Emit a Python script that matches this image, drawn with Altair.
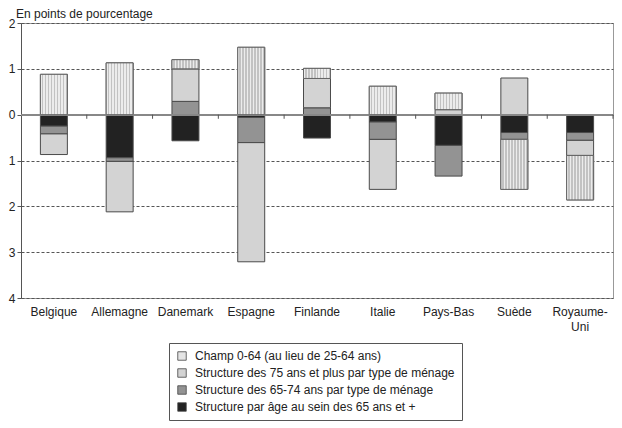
import altair as alt
import pandas as pd

# ---- data ----
pays = ["Belgique", "Allemagne", "Danemark", "Espagne", "Finlande",
        "Italie", "Pays-Bas", "Suède", "Royaume-Uni"]
series = ["Champ 0-64 (au lieu de 25-64 ans)",
          "Structure des 75 ans et plus par type de ménage",
          "Structure des 65-74 ans par type de ménage",
          "Structure par âge au sein des 65 ans et +"]
age_65plus = [-0.25, -0.94, -0.57, -0.06, -0.51, -0.16, -0.67, -0.39, -0.39]
menage_65_74 = [-0.17, -0.08, 0.29, -0.55, 0.15, -0.38, -0.67, -0.15, -0.17]
menage_75plus = [-0.45, -1.10, 0.71, -2.60, 0.64, -1.09, 0.11, 0.80, -0.33]
champ_0_64 = [0.88, 1.13, 0.20, 1.47, 0.22, 0.62, 0.36, -1.09, -0.97]
y_ticks = [-4, -3, -2, -1, 0, 1, 2]
colors = ["#e4e4e4", "#d3d3d3", "#939393", "#222222"]

rows = []
for order, (s, vals) in enumerate([(series[3], age_65plus), (series[2], menage_65_74),
                                   (series[1], menage_75plus), (series[0], champ_0_64)]):
    for p, v in zip(pays, vals):
        rows.append({"pays": p, "serie": s, "valeur": v, "ordre": order})
df = pd.DataFrame(rows)
cats = pd.DataFrame({"pays": pays})

FONT = "Liberation Sans"

x_axis = alt.Axis(title=None, labelAngle=0, ticks=False, domain=False, bandPosition=0.5,
                  labelPadding=8, labelFontSize=12, labelLineHeight=15,
                  labelColor="#222",
                  labelExpr="datum.label == 'Royaume-Uni' ? ['Royaume-', 'Uni'] : datum.label")
x_scale = alt.Scale(paddingInner=0, paddingOuter=0)
x_enc = alt.X("pays:N", sort=pays, scale=x_scale, axis=x_axis)
y_scale = alt.Scale(domain=[-4, 2], nice=False)
y_axis = alt.Axis(values=y_ticks, labelExpr="abs(datum.value)", title=None, grid=True,
                  gridDash=[3, 2], gridColor="#555", gridWidth=1, domainColor="#555",
                  tickColor="#555", tickSize=4, labelPadding=2, labelFontSize=12,
                  labelColor="#222")

base = alt.Chart(df).transform_stack(
    stack="valeur", groupby=["pays"], sort=[alt.SortField("ordre")], as_=["y0", "y1"]
)

bars = base.mark_bar(width=alt.RelativeBandSize(0.41), stroke="#4a4a4a", strokeWidth=1).encode(
    x=x_enc,
    y=alt.Y("y0:Q", scale=y_scale, axis=y_axis),
    y2="y1:Q",
    color=alt.Color("serie:N", scale=alt.Scale(domain=series, range=colors),
                    legend=alt.Legend(title=None, orient="none", legendX=148, legendY=320,
                                      strokeColor="#555", fillColor="white", padding=7,
                                      symbolType="square", symbolSize=72,
                                      symbolStrokeColor="#444", symbolStrokeWidth=0.8,
                                      labelFontSize=12, labelColor="#222", labelOffset=7,
                                      rowPadding=5, labelLimit=400)),
)

zero = alt.Chart(cats).mark_rule(color="#888", strokeWidth=1.5).encode(
    x=alt.value(0),
    x2=alt.value(592),
    y=alt.datum(0, scale=y_scale, axis=y_axis),
)

n = 9
stops = []
for i in range(n):
    stops += [alt.GradientStop(offset=i / n, color="#ececec"),
              alt.GradientStop(offset=(i + 0.5) / n, color="#ececec"),
              alt.GradientStop(offset=(i + 0.5) / n, color="#c2c2c2"),
              alt.GradientStop(offset=min(1.0, (i + 1) / n), color="#c2c2c2")]
grad = alt.LinearGradient(gradient="linear", stops=stops, x1=0, x2=1, y1=0, y2=0)

dotted = base.transform_filter(alt.datum.serie == series[0]).mark_bar(
    width=alt.RelativeBandSize(0.41), fill=grad, stroke="#666", strokeWidth=1
).encode(x=x_enc, y=alt.Y("y0:Q", scale=y_scale, axis=y_axis), y2="y1:Q")

ticks = alt.Chart(cats).mark_rule(color="#555", strokeWidth=1).encode(
    x=alt.X("pays:N", sort=pays, scale=x_scale, axis=x_axis, bandPosition=1),
    y=alt.datum(0, scale=y_scale),
    y2=alt.datum(-0.09),
)

chart = alt.layer(bars, zero, dotted, ticks).properties(
    width=592, height=275,
    padding={"left": 0, "top": 0, "right": 0, "bottom": 0},
    title=alt.Title("En points de pourcentage", anchor="start", frame="group", dx=-5,
                    fontSize=12, fontWeight="normal", font=FONT, color="#222", offset=-4),
).configure(font=FONT).configure_view(stroke="#999", strokeWidth=1)

chart.save("out.html", embed_options={"renderer": "svg", "actions": False})
